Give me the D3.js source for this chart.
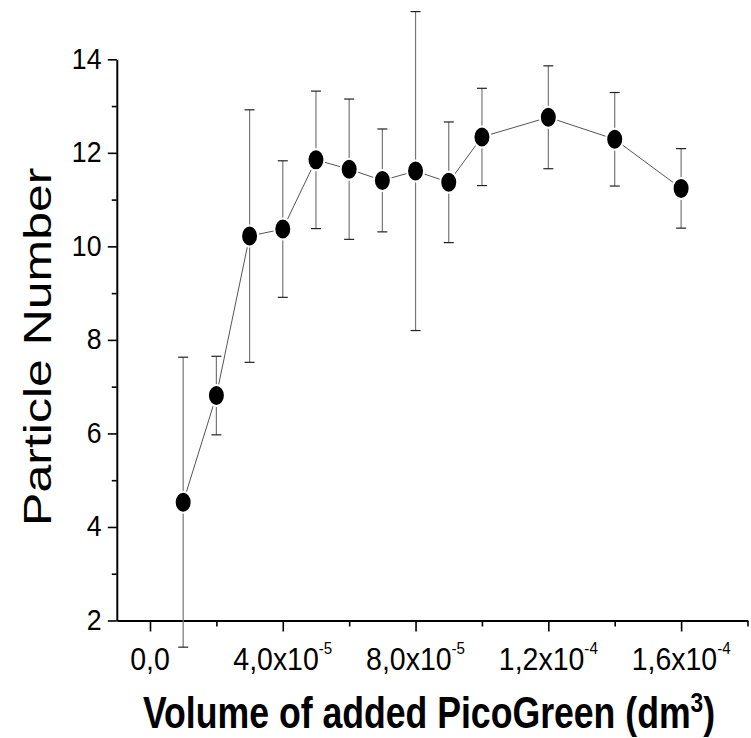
<!DOCTYPE html>
<html>
<head>
<meta charset="utf-8">
<script src="https://cdn.jsdelivr.net/npm/d3@7"></script>
<style>
  html, body { margin: 0; padding: 0; background: #fff; }
  svg { display: block; }
  text { font-family: "Liberation Sans", Arial, Helvetica, sans-serif; fill: #000; }
</style>
</head>
<body>
<script>
// Volume of PicoGreen added (dm^3)
const volumes = [1e-5, 2e-5, 3e-5, 4e-5, 5e-5, 6e-5, 7e-5, 8e-5, 9e-5, 1e-4, 1.2e-4, 1.4e-4, 1.6e-4];
// Mean particle number and its error (standard deviation)
const particleMean = [4.53, 6.81, 10.22, 10.37, 11.85, 11.65, 11.41, 11.61, 11.37, 12.34, 12.76, 12.29, 11.24];
const particleErr  = [3.10, 0.84, 2.70, 1.46, 1.47, 1.50, 1.10, 3.41, 1.29, 1.04, 1.10, 1.00, 0.85];

// Axis ticks and labels
const yMajorTicks = [2, 4, 6, 8, 10, 12, 14];
const yMinorTicks = [3, 5, 7, 9, 11, 13];
const xMajorTicks = [0, 4e-5, 8e-5, 1.2e-4, 1.6e-4];
const xMinorTicks = [2e-5, 6e-5, 1e-4, 1.4e-4, 1.8e-4];
const xTickMantissa = ["0,0", "4,0x10", "8,0x10", "1,2x10", "1,6x10"];
const xTickExponent = ["", "-5", "-5", "-4", "-4"];

const W = 751, H = 738;
const svg = d3.select("body").append("svg").attr("width", W).attr("height", H);
svg.append("rect").attr("width", W).attr("height", H).attr("fill", "#fff");

const x = d3.scaleLinear().domain([-1e-5, 1.8e-4]).range([116.8, 747.5]);
const y = d3.scaleLinear().domain([2, 14]).range([620.5, 59.3]);

// ---- axes ----
const axisColor = "#000";
const yAxisG = svg.append("g").attr("transform", `translate(${x.range()[0]},0)`);
yAxisG.call(d3.axisLeft(y).tickValues(yMajorTicks).tickSize(9).tickSizeOuter(0).tickFormat(""));
const yMinorG = svg.append("g").attr("transform", `translate(${x.range()[0]},0)`);
yMinorG.call(d3.axisLeft(y).tickValues(yMinorTicks).tickSize(5).tickSizeOuter(0).tickFormat(""));
yMinorG.select(".domain").remove();

const xAxisG = svg.append("g").attr("transform", `translate(0,${y.range()[0]})`);
xAxisG.call(d3.axisBottom(x).tickValues(xMajorTicks).tickSize(11).tickSizeOuter(0).tickFormat(""));
const xMinorG = svg.append("g").attr("transform", `translate(0,${y.range()[0]})`);
xMinorG.call(d3.axisBottom(x).tickValues(xMinorTicks).tickSize(6).tickSizeOuter(0).tickFormat(""));
xMinorG.select(".domain").remove();

svg.selectAll(".domain").attr("stroke", axisColor).attr("stroke-width", 2);
svg.selectAll(".tick line").attr("stroke", axisColor).attr("stroke-width", 1.6);

// y tick labels (narrow sans)
svg.append("g").selectAll("g").data(yMajorTicks).join("g")
  .attr("transform", d => `translate(101.5,${y(d) + 9.5}) scale(0.89,1)`)
  .append("text")
  .attr("text-anchor", "end")
  .attr("font-size", 30)
  .text(d => d);

// x tick labels with power-of-ten exponents
const xl = svg.append("g").selectAll("g").data(xMajorTicks).join("g")
  .attr("transform", d => `translate(${x(d)},670) scale(0.89,1)`)
  .append("text")
  .attr("text-anchor", "middle")
  .attr("font-size", 32);
xl.append("tspan").text((d, i) => xTickMantissa[i]);
xl.append("tspan").attr("font-size", 17).attr("dy", -16).text((d, i) => xTickExponent[i]);

// axis titles
svg.append("g")
  .attr("transform", "translate(51,346.7) rotate(-90) scale(1,0.78)")
  .append("text")
  .attr("text-anchor", "middle")
  .attr("font-size", 50)
  .text("Particle Number");

const xt = svg.append("g")
  .attr("transform", "translate(143,728.3) scale(0.81,1)")
  .append("text")
  .attr("font-size", 44)
  .attr("font-weight", "bold");
xt.append("tspan").text("Volume of added PicoGreen (dm");
xt.append("tspan").attr("font-size", 28).attr("dy", -16.6).text("3");
xt.append("tspan").attr("dy", 16.6).text(")");

// ---- data ----
const pts = volumes.map((v, i) => ({ v, m: particleMean[i], e: particleErr[i] }));

// error bars
const eb = svg.append("g");
eb.selectAll("line.bar").data(pts).join("line")
  .attr("class", "bar")
  .attr("x1", d => x(d.v)).attr("x2", d => x(d.v))
  .attr("y1", d => y(d.m - d.e)).attr("y2", d => y(d.m + d.e))
  .attr("stroke", "#777").attr("stroke-width", 1.2);
const capHalf = 5;
eb.selectAll("line.capTop").data(pts).join("line")
  .attr("class", "capTop")
  .attr("x1", d => x(d.v) - capHalf).attr("x2", d => x(d.v) + capHalf)
  .attr("y1", d => y(d.m + d.e)).attr("y2", d => y(d.m + d.e))
  .attr("stroke", "#222").attr("stroke-width", 1.2);
eb.selectAll("line.capBot").data(pts).join("line")
  .attr("class", "capBot")
  .attr("x1", d => x(d.v) - capHalf).attr("x2", d => x(d.v) + capHalf)
  .attr("y1", d => y(d.m - d.e)).attr("y2", d => y(d.m - d.e))
  .attr("stroke", "#222").attr("stroke-width", 1.2);

// connecting line
svg.append("path")
  .datum(pts)
  .attr("fill", "none")
  .attr("stroke", "#555")
  .attr("stroke-width", 1)
  .attr("d", d3.line().x(d => x(d.v)).y(d => y(d.m)));

// markers (filled, with a thin white halo)
svg.append("g").selectAll("ellipse").data(pts).join("ellipse")
  .attr("cx", d => x(d.v)).attr("cy", d => y(d.m))
  .attr("rx", 8.5).attr("ry", 10.5)
  .attr("fill", "#000")
  .attr("stroke", "#fff").attr("stroke-width", 2);
</script>
</body>
</html>
